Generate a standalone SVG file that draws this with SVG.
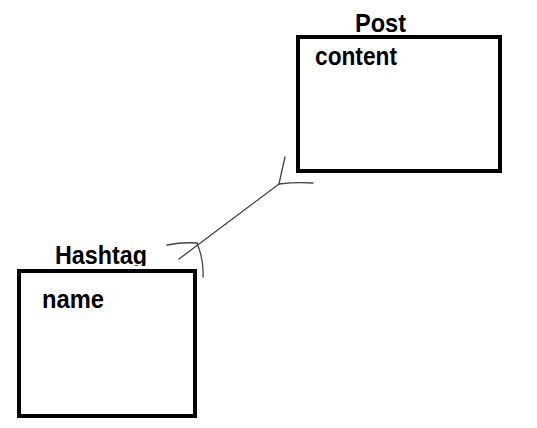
<svg xmlns="http://www.w3.org/2000/svg" width="537" height="428" viewBox="0 0 537 428">
<style>
.box{fill:#fff;stroke:#000;stroke-width:4}
.t{font-family:"Liberation Sans",Arial,sans-serif;font-weight:bold;font-size:25px;fill:#000}
.c{fill:none;stroke:#444;stroke-width:1.3;stroke-linecap:round}
</style>
<defs>
<clipPath id="hc"><rect x="0" y="230" width="537" height="36"/></clipPath>
</defs>
<rect width="537" height="428" fill="#fff"/>
<g id="connectors">
<path class="c" d="M179,259 L279,184"/>
<path class="c" d="M279,184 Q282,170 285,157"/>
<path class="c" d="M279,184 Q296,182 313,183"/>
<path class="c" d="M197,243 Q182,242 167,245"/>
<path class="c" d="M197,243 Q204,260 203,277"/>
</g>
<g id="post">
<rect class="box" x="298" y="37" width="202" height="134"/>
<text class="t" x="355" y="32" textLength="51" lengthAdjust="spacingAndGlyphs">Post</text>
<text class="t" x="315" y="65" textLength="82" lengthAdjust="spacingAndGlyphs">content</text>
</g>
<g id="hashtag">
<rect class="box" x="19" y="271" width="176" height="145"/>
<text class="t" x="55" y="264" textLength="92" lengthAdjust="spacingAndGlyphs" clip-path="url(#hc)">Hashtag</text>
<text class="t" x="42" y="308" textLength="62" lengthAdjust="spacingAndGlyphs">name</text>
</g>
</svg>
